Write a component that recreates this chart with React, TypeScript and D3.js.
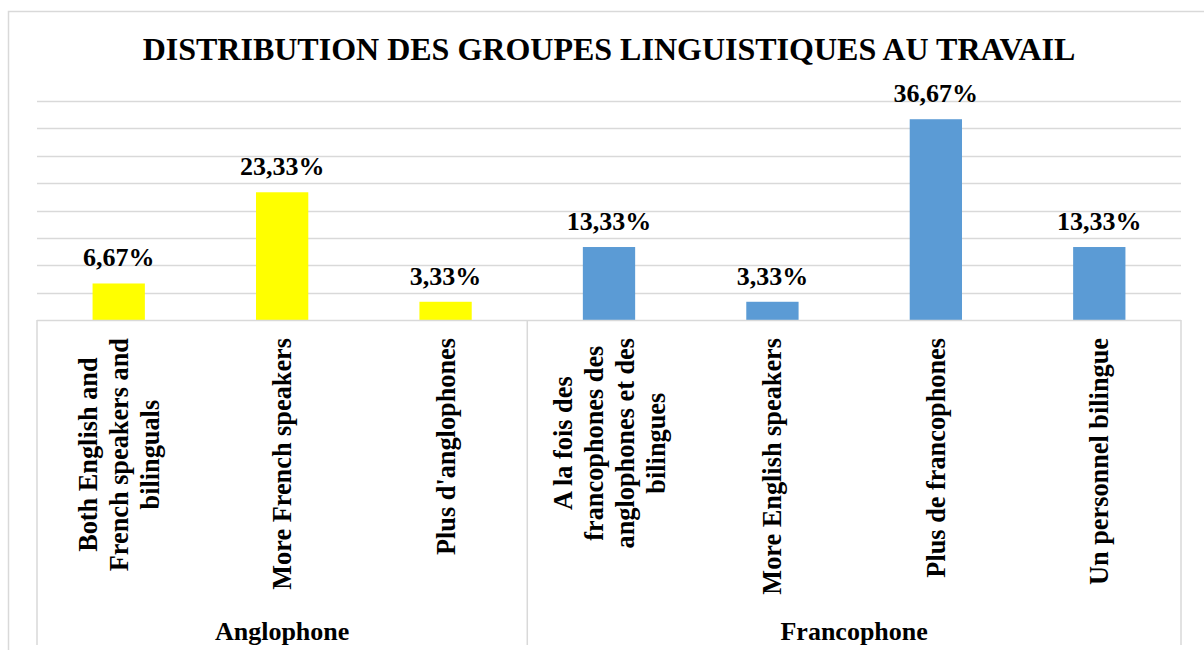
import React, { useEffect, useRef } from "react";
import * as d3 from "d3";

const title = "DISTRIBUTION DES GROUPES LINGUISTIQUES AU TRAVAIL";
const groups = ["Anglophone", "Francophone"];
const categoryLines: string[][] = [
  ["Both English and", "French speakers and", "bilinguals"],
  ["More French speakers"],
  ["Plus d'anglophones"],
  ["A la fois des", "francophones des", "anglophones et des", "bilingues"],
  ["More English speakers"],
  ["Plus de francophones"],
  ["Un personnel bilingue"],
];
const categoryGroup = [0, 0, 0, 1, 1, 1, 1];
const values = [6.67, 23.33, 3.33, 13.33, 3.33, 36.67, 13.33];
const groupColors = ["#FFFF00", "#5B9BD5"];
const gridTicks = [5, 10, 15, 20, 25, 30, 35, 40];

const W = 1204;
const H = 650;
const FONT = "'Liberation Serif', 'Times New Roman', Times, serif";

export default function App() {
  const ref = useRef<SVGSVGElement | null>(null);

  useEffect(() => {
    const svg = d3.select(ref.current);
    svg.selectAll("*").remove();

    const left = 37, right = 1181, top = 101, bottom = 320, axisBottom = 645;
    const idx = values.map((_, i) => i);
    const x = d3.scaleBand<number>().domain(idx).range([left, right]).paddingInner(0.68).paddingOuter(0.34);
    const y = d3.scaleLinear().domain([0, 40]).range([bottom, top]);
    const grid = "#d9d9d9";

    // outer border
    svg.append("path").attr("d", `M8.5,${H} L8.5,11.5 L${W},11.5`).attr("fill", "none").attr("stroke", grid).attr("stroke-width", 1.5);

    // gridlines
    svg.append("g").selectAll("line").data(gridTicks).join("line")
      .attr("x1", left).attr("x2", right)
      .attr("y1", (d) => Math.round(y(d)) + 0.5).attr("y2", (d) => Math.round(y(d)) + 0.5)
      .attr("stroke", grid).attr("stroke-width", 1.5);

    // bars
    svg.append("g").selectAll("rect").data(idx).join("rect")
      .attr("x", (i) => x(i)!)
      .attr("width", x.bandwidth())
      .attr("y", (i) => y(values[i]))
      .attr("height", (i) => y(0) - y(values[i]))
      .attr("fill", (i) => groupColors[categoryGroup[i]]);

    // axis line
    svg.append("line").attr("x1", left).attr("x2", right).attr("y1", bottom + 0.5).attr("y2", bottom + 0.5)
      .attr("stroke", grid).attr("stroke-width", 1.5);

    // group separators
    const step = x.step();
    const groupBounds: number[] = [left];
    let start = 0;
    groups.forEach((_, g) => {
      const count = categoryGroup.filter((c) => c === g).length;
      start += count;
      groupBounds.push(left + start * step);
    });
    svg.append("g").selectAll("line").data(groupBounds).join("line")
      .attr("x1", (d) => d).attr("x2", (d) => d)
      .attr("y1", bottom).attr("y2", axisBottom)
      .attr("stroke", grid).attr("stroke-width", 1.5);

    // data labels
    svg.append("g").selectAll("text").data(idx).join("text")
      .attr("x", (i) => x(i)! + x.bandwidth() / 2)
      .attr("y", (i) => y(values[i]) - 17)
      .attr("text-anchor", "middle")
      .attr("font-family", FONT).attr("font-weight", "bold").attr("font-size", 26)
      .text((i) => values[i].toFixed(2).replace(".", ",") + "%");

    // category labels
    const labelTop = 338;
    const lineH = 31;
    idx.forEach((i) => {
      const cx = x(i)! + x.bandwidth() / 2;
      const lines = categoryLines[i];
      const g = svg.append("g");
      const texts = lines.map((ln, k) =>
        g.append("text")
          .attr("text-anchor", "middle")
          .attr("font-family", FONT).attr("font-weight", "bold").attr("font-size", 26.3)
          .attr("y", (k - (lines.length - 1) / 2) * lineH + 9)
          .text(ln)
      );
      const maxLen = d3.max(texts, (t) => (t.node() as SVGTextElement).getComputedTextLength()) || 0;
      texts.forEach((t) => t.attr("x", -maxLen / 2));
      g.attr("transform", `translate(${cx},${labelTop}) rotate(-90)`);
    });

    // group labels
    svg.append("g").selectAll("text").data(groups).join("text")
      .attr("x", (_, g) => (groupBounds[g] + groupBounds[g + 1]) / 2)
      .attr("y", 640)
      .attr("text-anchor", "middle")
      .attr("font-family", FONT).attr("font-weight", "bold").attr("font-size", 26)
      .text((d) => d);

    // title
    svg.append("text")
      .attr("x", (left + right) / 2).attr("y", 60)
      .attr("text-anchor", "middle")
      .attr("font-family", FONT).attr("font-weight", "bold").attr("font-size", 32)
      .text(title);
  }, []);

  return (
    <svg
      ref={ref}
      width={W}
      height={H}
      style={{ position: "fixed", left: 0, top: 0, background: "#ffffff" }}
    />
  );
}
